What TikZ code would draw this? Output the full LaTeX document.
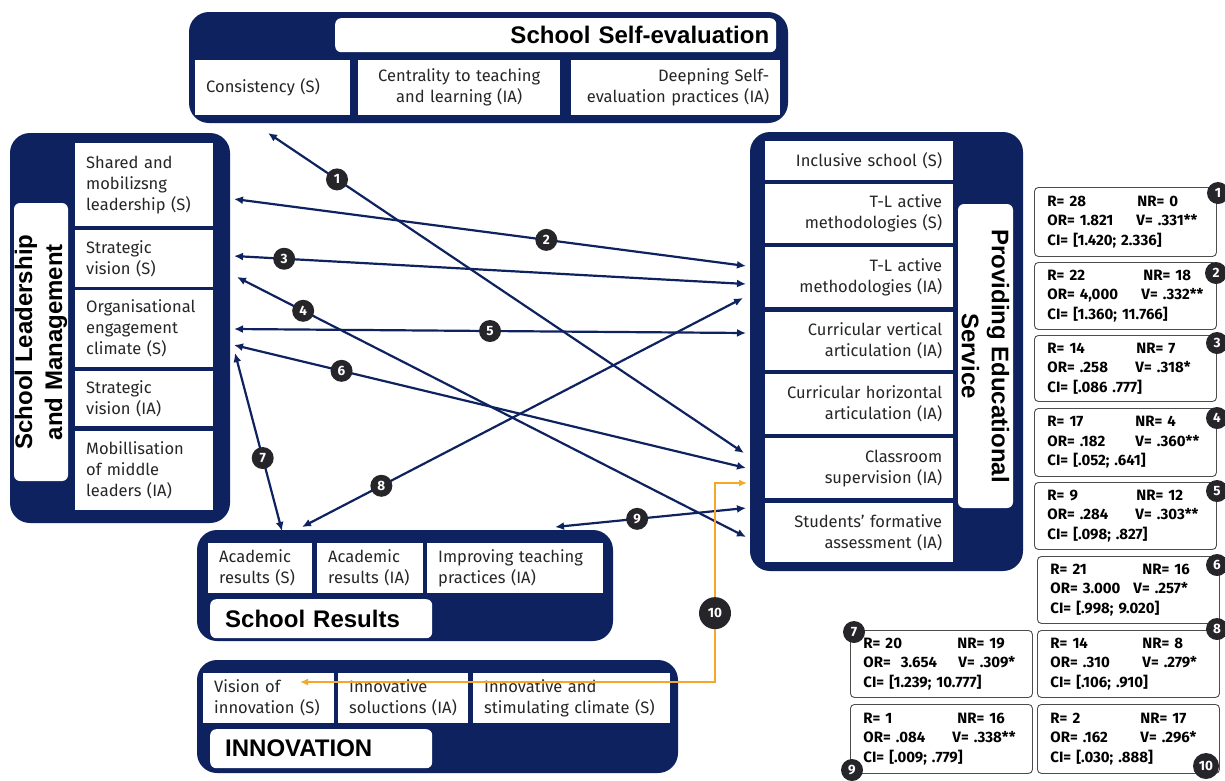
\documentclass[tikz,border=0pt]{standalone}
\usepackage{fontspec}
\setmainfont{Fira Sans}
\newfontfamily\headfont{Liberation Sans}
\usetikzlibrary{arrows.meta,positioning,calc}

\definecolor{navy}{RGB}{14,34,96}
\definecolor{badgegray}{RGB}{38,38,42}
\definecolor{linkorange}{RGB}{246,166,40}

\newcommand{\statrow}[3]{\mbox{\makebox[#1][l]{#2}#3}}

\tikzset{
  group/.style={fill=navy, rounded corners=20pt},
  cell/.style={fill=white, anchor=north west, align=left, inner xsep=11pt, inner ysep=0pt,
    font=\fontsize{16.5}{21}\selectfont, text=black!85},
  head/.style={fill=white, rounded corners=6pt, anchor=north west, inner xsep=10pt, inner ysep=0pt,
    font=\headfont\bfseries\fontsize{24}{30}\selectfont},
  stat/.style={draw=black!70, line width=0.9pt, rounded corners=4pt, anchor=north west,
    text width=156pt, minimum width=182pt, inner xsep=13pt, inner ysep=0pt, align=left,
    font=\bfseries\fontsize{15}{19.5}\selectfont},
  badge/.style={circle, fill=badgegray, text=white, inner sep=0pt, minimum size=22pt,
    font=\bfseries\fontsize{13.5}{13.5}\selectfont},
  bigbadge/.style={badge, minimum size=32pt},
  link/.style={navy, line width=2.2pt, {Latex[length=9pt,width=8pt]}-{Latex[length=9pt,width=8pt]}},
  orangelink/.style={linkorange, line width=2pt, {Latex[length=8pt,width=7pt]}-{Latex[length=8pt,width=7pt]}},
}

\begin{document}
\begin{tikzpicture}[x=1pt,y=-1pt]
  \useasboundingbox (0,0) rectangle (1225,780);

  \fill[group] (189,12) rectangle (788,123);
  \fill[group] (10,133) rectangle (230,523);
  \fill[group] (750,132) rectangle (1023,571);
  \fill[group] (197,530) rectangle (613,641);
  \fill[group] (197,660) rectangle (678,773);

  % School Self-evaluation
  \node[head, text width=427pt, align=right, minimum height=34pt, inner xsep=7pt] (sseT) at (335,18) {School Self-evaluation};
  \node[cell, text width=133pt, minimum height=55pt] (cons) at (195,60) {Consistency (S)};
  \node[cell, text width=180pt, minimum height=55pt, align=center] (cent) at (358,60) {Centrality to teaching\\and learning (IA)};
  \node[cell, text width=187pt, minimum height=55pt, align=right] (deep) at (571,60) {Deepning Self-\\evaluation practices (IA)};

  % School Leadership and Management
  \node[head, anchor=center, rotate=90, minimum width=278pt, minimum height=54pt, align=center] (slmT) at (41,342) {School Leadership\\and Management};
  \node[cell, text width=116pt, minimum height=83pt] (shared) at (75,143) {Shared and\\mobilizsng\\leadership (S)};
  \node[cell, text width=116pt, minimum height=57pt] (stratS) at (75,230) {Strategic\\vision (S)};
  \node[cell, text width=116pt, minimum height=77pt] (orgclim) at (75,290) {Organisational\\engagement\\climate (S)};
  \node[cell, text width=116pt, minimum height=55pt] (stratIA) at (75,371) {Strategic\\vision (IA)};
  \node[cell, text width=116pt, minimum height=79pt] (mobil) at (75,431) {Mobillisation\\of middle\\leaders (IA)};

  % Providing Educational Service
  \node[head, anchor=center, rotate=-90, minimum width=304pt, minimum height=55pt, align=center] (pesT) at (985.5,356) {Providing Educational\\Service};
  \node[cell, text width=166pt, minimum height=39pt, align=right] (incl) at (765,141) {Inclusive school (S)};
  \node[cell, text width=166pt, minimum height=59pt, align=right] (tlS) at (765,184) {T-L active\\methodologies (S)};
  \node[cell, text width=166pt, minimum height=60pt, align=right] (tlIA) at (765,247) {T-L active\\methodologies (IA)};
  \node[cell, text width=166pt, minimum height=58pt, align=right] (cvert) at (765,312) {Curricular vertical\\articulation (IA)};
  \node[cell, text width=166pt, minimum height=60pt, align=right] (chor) at (765,374) {Curricular horizontal\\articulation (IA)};
  \node[cell, text width=166pt, minimum height=60pt, align=right] (csup) at (765,438) {Classroom\\supervision (IA)};
  \node[cell, text width=166pt, minimum height=59pt, align=right] (sform) at (765,503) {Students' formative\\assessment (IA)};

  % School Results
  \node[cell, text width=82pt, minimum height=50pt] (acadS) at (208,543) {Academic\\results (S)};
  \node[cell, text width=84pt, minimum height=50pt] (acadIA) at (317,543) {Academic\\results (IA)};
  \node[cell, text width=154pt, minimum height=50pt] (improv) at (427,543) {Improving teaching\\practices (IA)};
  \node[head, text width=192pt, align=left, minimum height=39pt, inner xsep=15pt] (srT) at (210,599) {School Results};

  % Innovation
  \node[cell, text width=109pt, minimum height=50pt] (visinn) at (203,673) {Vision of\\innovation (S)};
  \node[cell, text width=108pt, minimum height=50pt] (innsol) at (338,673) {Innovative\\soluctions (IA)};
  \node[cell, text width=175pt, minimum height=50pt] (innclim) at (473,673) {Innovative and\\stimulating climate (S)};
  \node[head, text width=192pt, align=left, minimum height=39pt, inner xsep=15pt] (inT) at (210,729) {INNOVATION};

  % statistics
  \node[stat, minimum height=69pt] (st1) at (1034,187) {\statrow{90pt}{R= 28}{NR= 0}\\\statrow{89pt}{OR= 1.821}{V= .331**}\\CI= [1.420; 2.336]};
  \node[stat, minimum height=67pt] (st2) at (1034,262) {\statrow{96pt}{R= 22}{NR= 18}\\\statrow{94pt}{OR= 4,000}{V= .332**}\\CI= [1.360; 11.766]};
  \node[stat, minimum height=66pt] (st3) at (1034,335) {\statrow{89pt}{R= 14}{NR= 7}\\\statrow{88pt}{OR= .258}{V= .318*}\\CI= [.086 .777]};
  \node[stat, minimum height=68pt] (st4) at (1034,408) {\statrow{88pt}{R= 17}{NR= 4}\\\statrow{88pt}{OR= .182}{V= .360**}\\CI= [.052; .641]};
  \node[stat, minimum height=67pt] (st5) at (1034,482) {\statrow{89pt}{R= 9}{NR= 12}\\\statrow{88pt}{OR= .284}{V= .303**}\\CI= [.098; .827]};
  \node[stat, minimum height=67pt] (st6) at (1037,556) {\statrow{92pt}{R= 21}{NR= 16}\\\statrow{83pt}{OR= 3.000}{V= .257*}\\CI= [.998; 9.020]};
  \node[stat, minimum height=67pt] (st7) at (850,630) {\statrow{94pt}{R= 20}{NR= 19}\\\statrow{95pt}{OR= \ 3.654}{V= .309*}\\CI= [1.239; 10.777]};
  \node[stat, minimum height=67pt] (st8) at (1037,630) {\statrow{92pt}{R= 14}{NR= 8}\\\statrow{92pt}{OR= .310}{V= .279*}\\CI= [.106; .910]};
  \node[stat, minimum height=69pt] (st9) at (850,704) {\statrow{94pt}{R= 1}{NR= 16}\\\statrow{89pt}{OR= .084}{V= .338**}\\CI= [.009; .779]};
  \node[stat, minimum height=69pt] (st10) at (1037,704) {\statrow{90pt}{R= 2}{NR= 17}\\\statrow{90pt}{OR= .162}{V= .296*}\\CI= [.030; .888]};

  \node[badge] (n1) at (1218,193) {1};
  \node[badge] (n2) at (1216,273) {2};
  \node[badge] (n3) at (1217,343) {3};
  \node[badge] (n4) at (1217,418) {4};
  \node[badge] (n5) at (1217,491) {5};
  \node[badge] (n6) at (1217,565) {6};
  \node[badge] (n7) at (854,632) {7};
  \node[badge] (n8) at (1217,629) {8};
  \node[badge] (n9) at (852,770) {9};
  \node[badge, minimum size=26pt] (n10) at (1206,766) {10};

  % connectors
  \coordinate (a1s) at (268,133);  \coordinate (a1e) at (744,453);
  \coordinate (a2s) at (234,199);  \coordinate (a2e) at (746,266);
  \coordinate (a3s) at (234,256);  \coordinate (a3e) at (746,284);
  \coordinate (a4s) at (237,277);  \coordinate (a4e) at (746,537);
  \coordinate (a5s) at (234,329);  \coordinate (a5e) at (746,333);
  \coordinate (a6s) at (234,345);  \coordinate (a6e) at (746,468);
  \coordinate (a7s) at (235,353);  \coordinate (a7e) at (282,531);
  \coordinate (a8s) at (302,527);  \coordinate (a8e) at (743,298);
  \coordinate (a9s) at (555,527);  \coordinate (a9e) at (746,508);
  \coordinate (a10s) at (300,682); \coordinate (a10m) at (715,483); \coordinate (a10e) at (747,483);

  \draw[link] (a1s) -- node[badge, pos=0.145] (l1) {1} (a1e);
  \draw[link] (a2s) -- node[badge, pos=0.61] (l2) {2} (a2e);
  \draw[link] (a3s) -- node[badge, pos=0.098] (l3) {3} (a3e);
  \draw[link] (a4s) -- node[badge, pos=0.13] (l4) {4} (a4e);
  \draw[link] (a5s) -- node[badge, pos=0.50] (l5) {5} (a5e);
  \draw[link] (a6s) -- node[badge, pos=0.21] (l6) {6} (a6e);
  \draw[link] (a7s) -- node[badge, pos=0.59] (l7) {7} (a7e);
  \draw[link] (a8s) -- node[badge, pos=0.18] (l8) {8} (a8e);
  \draw[link] (a9s) -- node[badge, pos=0.43] (l9) {9} (a9e);
  \draw[orangelink] (a10s) -| node[bigbadge, pos=0.673] (l10) {10} (a10m) -- (a10e);
\end{tikzpicture}
\end{document}
